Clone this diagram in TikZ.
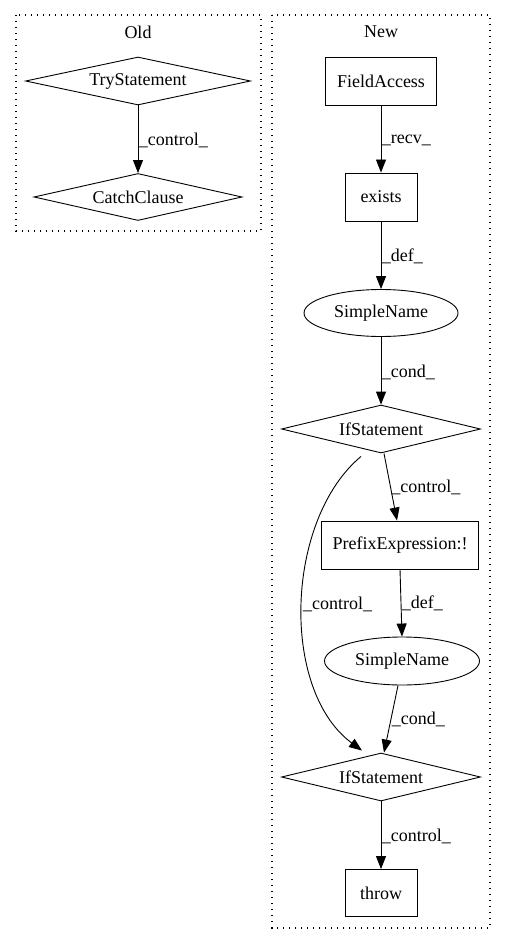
\documentclass[tikz,border=0pt]{standalone}
\usepackage{fontspec}
\setmainfont{Liberation Serif}
\usetikzlibrary{shapes.geometric,arrows.meta}
\begin{document}
\begin{tikzpicture}[x=1pt,y=-1pt,
  every node/.style={font=\fontsize{18pt}{20pt}\selectfont, line width=0.9pt},
  cluster/.style={draw, line width=1.1pt, dash pattern=on 1.3pt off 4.7pt},
  dia/.style={draw, diamond, inner sep=0pt, aspect=4.5},
  box/.style={draw, rectangle, inner sep=0pt},
  ell/.style={draw, ellipse, inner sep=0pt},
  lbl/.style={right, inner sep=0.5pt, font=\fontsize{18pt}{20pt}\selectfont},
  edge/.style={draw, line width=0.9pt, -{Triangle[length=13pt,width=10pt]}}
]
\useasboundingbox (0,0) rectangle (507,944);
% clusters
\draw[cluster] (16,15) rectangle (261,231);
\node (oldlbl) at (138,32) {Old};
\draw[cluster] (272,15) rectangle (490,928);
\node (newlbl) at (381,32) {New};
% Old
\node[dia, minimum width=225pt, minimum height=48pt] (try) at (138,81) {TryStatement};
\node[dia, minimum width=208pt, minimum height=47pt] (catch) at (138,197) {CatchClause};
\path[edge] (try.south) -- node[lbl, pos=0.52] {\_control\_} (catch.north);
% New
\node[box, minimum width=111pt, minimum height=48pt] (fa) at (381,81) {FieldAccess};
\node[box, minimum width=72pt, minimum height=48pt] (ex) at (381,197) {exists};
\node[ell, minimum width=154pt, minimum height=47pt] (sn1) at (381,313) {SimpleName};
\node[dia, minimum width=199pt, minimum height=48pt] (if1) at (381,429) {IfStatement};
\node[box, minimum width=157pt, minimum height=48pt] (pre) at (400,545) {PrefixExpression:!};
\node[ell, minimum width=155pt, minimum height=48pt] (sn2) at (402,661) {SimpleName};
\node[dia, minimum width=199pt, minimum height=48pt] (if2) at (381,777) {IfStatement};
\node[box, minimum width=72pt, minimum height=47pt] (thr) at (381,893) {throw};

\path[edge] (fa.south) -- node[lbl, pos=0.52] {\_recv\_} (ex.north);
\path[edge] (ex.south) -- node[lbl, pos=0.52] {\_def\_} (sn1.north);
\path[edge] (sn1.south) -- node[lbl, pos=0.52] {\_cond\_} (if1.north);
\path[edge] ([xshift=3pt]if1.south) -- node[lbl, pos=0.5] {\_control\_} ([xshift=-3pt]pre.north);
\path[edge] (pre.south) -- node[lbl, pos=0.5] {\_def\_} (sn2.north);
\path[edge] ([xshift=-4pt]sn2.south) -- node[lbl, pos=0.5] {\_cond\_} ([xshift=3pt]if2.north);
\path[edge] ([xshift=-20pt,yshift=-3pt]if1.south) .. controls (285,520) and (280,690) .. node[lbl, pos=0.5] {\_control\_} ([xshift=-19pt,yshift=2pt]if2.north);
\path[edge] (if2.south) -- node[lbl, pos=0.52] {\_control\_} (thr.north);
\end{tikzpicture}
\end{document}
